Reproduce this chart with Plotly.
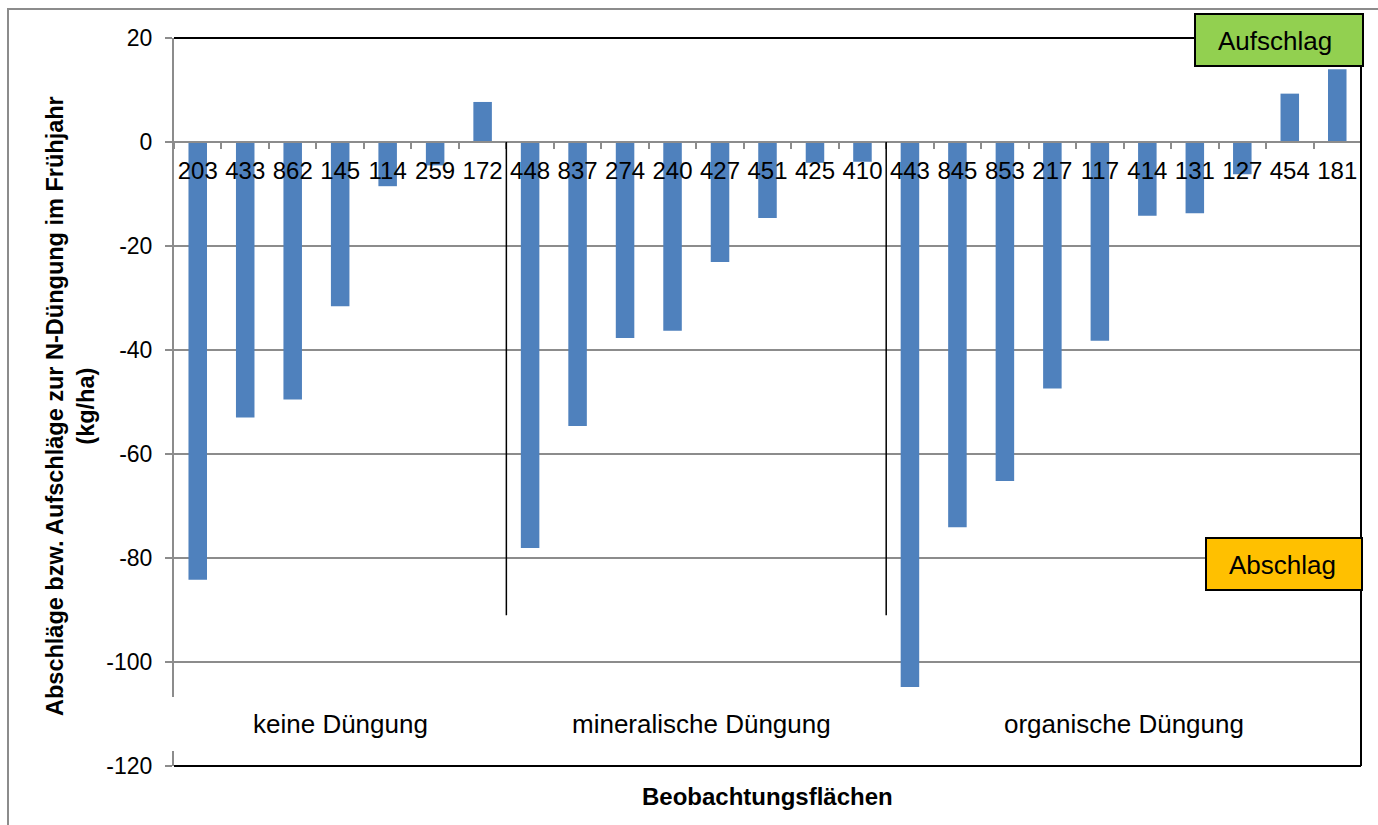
import plotly.graph_objects as go

# Beobachtungsflächen (plot IDs) grouped by fertilisation type
flaechen = ["203", "433", "862", "145", "114", "259", "172",
            "448", "837", "274", "240", "427", "451", "425", "410",
            "443", "845", "853", "217", "117", "414", "131", "127", "454", "181"]
werte = [-84.2, -53.0, -49.5, -31.6, -8.5, -4.5, 7.7,
         -78.1, -54.6, -37.7, -36.3, -23.1, -14.6, -4.0, -3.8,
         -104.8, -74.1, -65.2, -47.4, -38.2, -14.2, -13.7, -6.2, 9.3, 14.0]
gruppen = ["keine Düngung", "mineralische Düngung", "organische Düngung"]
gruppen_mitte = [3.0, 10.6, 19.5]      # centre of each group (category index)
gruppen_grenzen = [6.5, 14.5]          # separators between the groups
y_ticks = [20, 0, -20, -40, -60, -80, -100, -120]
y_ticktext = ["20", "0", "-20", "-40", "-60", "-80", "-100", "-120"]

W, H = 1378, 825
L, R, T, B = 174, 17, 38, 59
PW, PH = W - L - R, H - T - B
YMIN, YMAX = -120, 20


def px_x(x):
    return (x - L) / PW


def px_y(y):
    return (H - B - y) / PH


FONT = "Liberation Sans, Arial, sans-serif"
BAR = "#4F81BD"
GRID = "#8C8C8C"

fig = go.Figure(go.Bar(x=flaechen, y=werte, marker=dict(color=BAR, line=dict(width=0)),
                       width=0.39, hoverinfo="x+y"))

shapes = []
# outer frame of the chart
shapes.append(dict(type="rect", xref="paper", yref="paper", x0=px_x(8), x1=px_x(W + 20),
                   y0=px_y(H + 20), y1=px_y(9), line=dict(color="#8C8C8C", width=2),
                   fillcolor="rgba(0,0,0,0)", layer="below"))
# black border on top, right and bottom of the plot area
shapes.append(dict(type="line", xref="paper", yref="paper", x0=0, x1=1, y0=1, y1=1,
                   line=dict(color="black", width=2), layer="above"))
shapes.append(dict(type="line", xref="paper", yref="paper", x0=1, x1=1, y0=0, y1=1,
                   line=dict(color="black", width=2), layer="above"))
shapes.append(dict(type="line", xref="paper", yref="paper", x0=0, x1=1, y0=0, y1=0,
                   line=dict(color="black", width=2), layer="above"))
# white label box overlapping the left axis line
shapes.append(dict(type="rect", xref="paper", yref="paper", x0=px_x(172), x1=px_x(177),
                   y0=px_y(751), y1=px_y(697), line=dict(width=0), fillcolor="white",
                   layer="above"))
# group separators
for g in gruppen_grenzen:
    shapes.append(dict(type="line", xref="x", yref="y", x0=g, x1=g, y0=0, y1=-91,
                       line=dict(color="black", width=1.5), layer="above"))
# Aufschlag / Abschlag boxes
shapes.append(dict(type="rect", xref="paper", yref="paper", x0=px_x(1195), x1=px_x(1363),
                   y0=px_y(66), y1=px_y(14), fillcolor="#92D050",
                   line=dict(color="black", width=2), layer="above"))
shapes.append(dict(type="rect", xref="paper", yref="paper", x0=px_x(1206), x1=px_x(1362),
                   y0=px_y(590), y1=px_y(538), fillcolor="#FFC000",
                   line=dict(color="black", width=2), layer="above"))

C = dict(xanchor="center", yanchor="middle", showarrow=False)
annotations = []
for name, xm in zip(gruppen, gruppen_mitte):
    annotations.append(dict(x=xm, y=-112, xref="x", yref="y", text=name,
                            font=dict(family=FONT, size=26, color="black"), **C))
annotations.append(dict(x=px_x(1275), y=px_y(41), xref="paper", yref="paper",
                        text="Aufschlag", font=dict(family=FONT, size=26, color="black"), **C))
annotations.append(dict(x=px_x(1282), y=px_y(565), xref="paper", yref="paper",
                        text="Abschlag", font=dict(family=FONT, size=26, color="black"), **C))
annotations.append(dict(x=px_x(70), y=px_y(406), xref="paper", yref="paper", textangle=-90,
                        text="<b>Abschläge bzw. Aufschläge zur N-Düngung im Frühjahr<br>(kg/ha)</b>",
                        font=dict(family=FONT, size=23.5, color="black"), **C))
annotations.append(dict(x=px_x(767), y=px_y(796), xref="paper", yref="paper",
                        text="<b>Beobachtungsflächen</b>",
                        font=dict(family=FONT, size=24, color="black"), **C))

fig.update_layout(
    width=W, height=H,
    margin=dict(l=L, r=R, t=T, b=B, autoexpand=False),
    paper_bgcolor="white", plot_bgcolor="white",
    showlegend=False,
    shapes=shapes,
    annotations=annotations,
    font=dict(family=FONT, size=23, color="black"),
    xaxis=dict(
        type="category", anchor="free", position=(0 - YMIN) / (YMAX - YMIN),
        range=[-0.5, len(flaechen) - 0.5],
        showline=True, linecolor=GRID, linewidth=2,
        ticks="outside", tickson="boundaries", ticklen=6, tickcolor=GRID, tickwidth=2,
        showgrid=False, tickangle=0, ticklabelstandoff=7,
        tickfont=dict(family=FONT, size=24, color="black"),
        layer="above traces",
    ),
    yaxis=dict(
        range=[YMIN, YMAX], tickvals=y_ticks, ticktext=y_ticktext,
        showline=True, linecolor=GRID, linewidth=2,
        ticks="outside", ticklen=7, tickcolor=GRID, tickwidth=2,
        showgrid=True, gridcolor=GRID, gridwidth=1.5,
        zeroline=False, ticklabelstandoff=8,
        tickfont=dict(family=FONT, size=23, color="black"),
    ),
    bargap=0.6,
)

fig.write_html("out.html")
